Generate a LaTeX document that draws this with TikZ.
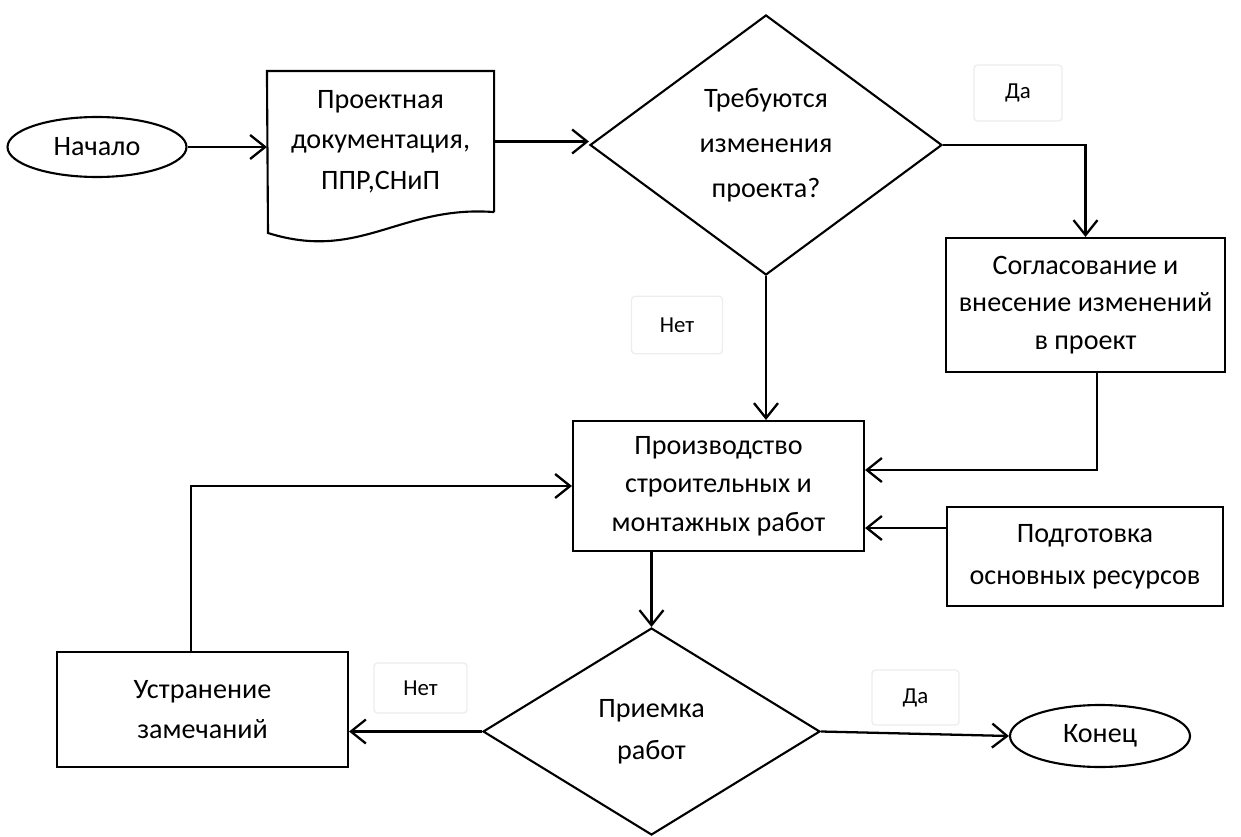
\documentclass[tikz,border=0pt]{standalone}
\usepackage{fontspec}
\setmainfont{Carlito}
\usetikzlibrary{arrows.meta,shapes.geometric,calc}

\begin{document}
\begin{tikzpicture}[
		font=\fontsize{16}{23}\selectfont,
		line width=1.2pt,
		stepbox/.style={draw, rectangle, align=center, inner sep=0pt},
		oval/.style={draw, ellipse, inner sep=0pt},
		choice/.style={draw, diamond, align=center, inner sep=0pt, aspect=1.35, font=\fontsize{16}{25.5}\selectfont},
		answer/.style={draw=black!7, line width=0.8pt, rounded corners=2pt, font=\fontsize{13}{15}\selectfont, inner sep=0pt},
		link/.style={line width=1.3pt, -{Straight Barb[length=3mm,width=4.8mm]}}
	]
	\useasboundingbox (0,0) rectangle (24.82,-16.74);

	\node[oval, minimum width=3.58cm, minimum height=1.2cm] (start) at (1.94,-2.94) {Начало};
	\node[align=center, minimum width=4.5cm, minimum height=2.78cm, inner sep=0pt] (doc) at (7.61,-2.83) {Проектная\\документация,\\ППР,СНиП};
	\draw (doc.south east) -- (doc.north east) -- (doc.north west) -- (5.36,-4.66)
		.. controls (7.2,-5.24) and (8,-4.1) .. (doc.south east);
	\node[choice, minimum width=7.04cm, minimum height=5.2cm] (dia1) at (15.32,-2.9) {Требуются\\изменения\\проекта?};
	\node[answer, minimum width=1.76cm, minimum height=1.12cm] (yes1) at (20.36,-1.86) {Да};
	\node[stepbox, minimum width=5.58cm, minimum height=2.68cm, font=\fontsize{16}{21.5}\selectfont] (agree) at (21.71,-6.1) {Согласование и\\внесение изменений\\в проект};
	\node[answer, minimum width=1.82cm, minimum height=1.15cm] (no1) at (13.54,-6.5) {Нет};
	\node[stepbox, minimum width=5.82cm, minimum height=2.6cm, font=\fontsize{16}{22}\selectfont] (prod) at (14.37,-9.72) {Производство\\строительных и\\монтажных работ};
	\node[stepbox, minimum width=5.52cm, minimum height=1.98cm, font=\fontsize{16}{24}\selectfont] (res) at (21.7,-11.13) {Подготовка\\основных ресурсов};
	\node[choice, minimum width=6.74cm, minimum height=4.14cm, aspect=1.6, font=\fontsize{16}{24}\selectfont] (dia2) at (13.03,-14.63) {Приемка\\работ};
	\node[stepbox, minimum width=5.82cm, minimum height=2.3cm] (fix) at (4.05,-14.19) {Устранение\\замечаний};
	\node[answer, minimum width=1.86cm, minimum height=1cm] (no2) at (8.41,-13.76) {Нет};
	\node[answer, minimum width=1.74cm, minimum height=1.1cm] (yes2) at (18.31,-13.95) {Да};
	\node[oval, minimum width=3.6cm, minimum height=1.24cm] (end) at (22,-14.72) {Конец};
	\coordinate (resout) at ($(res.west)+(0,0.57)$);

	\draw[link] (start) -- (start -| doc.west);
	\draw[link] (doc.east) -- (doc.east -| dia1.west);
	\draw[link] (dia1.east) -| (agree.north);
	\draw[link] (dia1.south) -- (dia1.south |- prod.north);
	\draw[link] ($(agree.south)+(0.23,0)$) |- ($(prod.east)+(0,0.32)$);
	\draw[link] (resout) -- (resout -| prod.east);
	\draw[link] (prod.south -| dia2.north) -- (dia2.north);
	\draw[link] (dia2.west) -- (dia2.west -| fix.east);
	\draw[link] ($(fix.north)+(-0.23,0)$) |- (prod.west);
	\draw[link] (dia2.east) -- (end.west);
\end{tikzpicture}
\end{document}
